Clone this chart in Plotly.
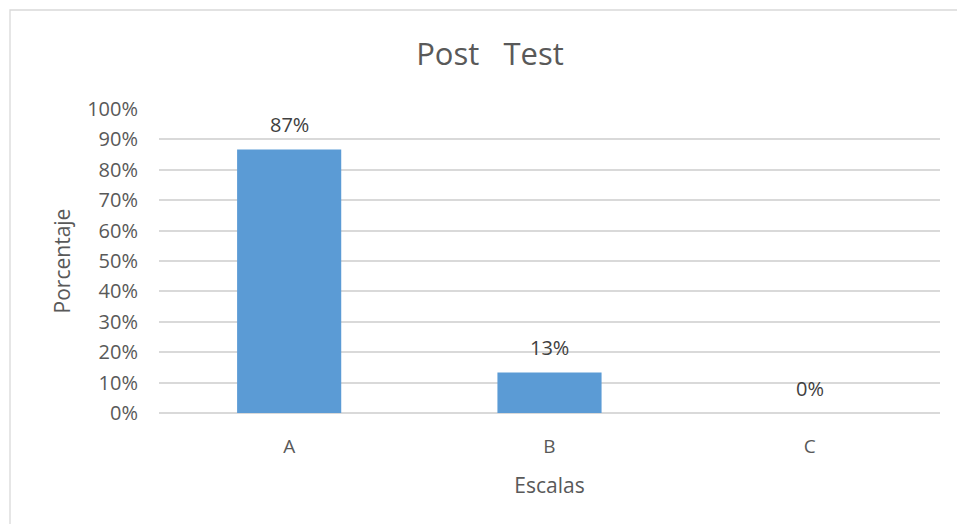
import plotly.graph_objects as go

categories = ["A", "B", "C"]
values = [0.8667, 0.1333, 0.0]
labels = ["87%", "13%", "0%"]
tick_vals = [0, 0.1, 0.2, 0.3, 0.4, 0.5, 0.6, 0.7, 0.8, 0.9, 1.0]
tick_text = ["0%", "10%", "20%", "30%", "40%", "50%", "60%", "70%", "80%", "90%", "100%"]

W, H = 957, 524
L, R, T, B = 159, 17, 109, 111
pw, ph = W - L - R, H - T - B

def px_x(x):
    return (x - L) / pw

def px_y(y):
    return (H - B - y) / ph

font_fam = "Open Sans, Noto Sans, sans-serif"
txt_col = "#595959"

fig = go.Figure(go.Bar(
    x=categories, y=values,
    marker=dict(color="#5B9BD5", line=dict(width=0)),
    width=0.4,
))

for c, v, t in zip(categories, values, labels):
    fig.add_annotation(x=c, y=v, text=t, showarrow=False, xanchor="center", yanchor="middle",
                       yshift=25, font=dict(size=20, color="#404040", family=font_fam))

fig.update_layout(
    width=W, height=H,
    margin=dict(l=L, r=R, t=T, b=B),
    paper_bgcolor="white", plot_bgcolor="white",
    showlegend=False,
    title=dict(text="Post   Test", x=490 / W, xanchor="center", y=1 - 54.5 / H, yanchor="middle",
               font=dict(size=31, color=txt_col, family=font_fam)),
    font=dict(family=font_fam, color=txt_col, size=20),
    xaxis=dict(
        showgrid=False, showline=False, zeroline=False, ticks="",
        tickfont=dict(size=19, color=txt_col), ticklabelstandoff=20,
        title=dict(text="Escalas", font=dict(size=21, color=txt_col), standoff=20),
    ),
    yaxis=dict(
        range=[0, 1.0], tickvals=tick_vals, ticktext=tick_text,
        showgrid=True, gridcolor="#D9D9D9", gridwidth=1.5,
        zeroline=True, zerolinecolor="#D9D9D9", zerolinewidth=1.5,
        showline=False, ticks="", ticklabelstandoff=20,
        tickfont=dict(size=20, color=txt_col),
        title=dict(text="Porcentaje", font=dict(size=21, color=txt_col), standoff=10),
    ),
    shapes=[dict(type="rect", xref="paper", yref="paper",
                 x0=px_x(10), x1=px_x(980), y0=px_y(540), y1=px_y(10),
                 line=dict(color="#D9D9D9", width=1.3), fillcolor="rgba(0,0,0,0)", layer="below")],
)

fig.write_html("out.html", config={"displayModeBar": False},
               post_script="document.body.style.margin='0';")
